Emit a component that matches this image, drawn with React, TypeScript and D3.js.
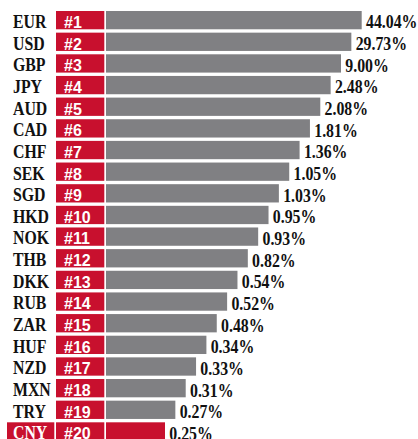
import React from "react";
import * as d3 from "d3";

const currencies = ["EUR","USD","GBP","JPY","AUD","CAD","CHF","SEK","SGD","HKD","NOK","THB","DKK","RUB","ZAR","HUF","NZD","MXN","TRY","CNY"];
const ranks = d3.range(1, 21);
const shares = [44.04,29.73,9.0,2.48,2.08,1.81,1.36,1.05,1.03,0.95,0.93,0.82,0.54,0.52,0.48,0.34,0.33,0.31,0.27,0.25];
const highlight = "CNY";

const W = 418, H = 439;
const RED = "#c8102e";
const GRAY = "#808083";
const SERIF = "'Liberation Serif', 'DejaVu Serif', serif";
const SANS = "'Liberation Sans', Arial, sans-serif";

export default function App() {
  const y = d3.scaleBand<string>().domain(currencies).range([11, 440.6]).paddingInner(0.155).paddingOuter(0);
  const x = d3.scaleLinear().domain([1, 20]).range([361.7, 165]);
  const barX = 106;
  const bw = y.bandwidth();
  const sx = 0.88;
  return (
    <svg width={W} height={H} style={{ position: "absolute", left: 0, top: 0, background: "#fff" }}>
      {currencies.map((c, i) => {
        const top = y(c)!;
        const hl = c === highlight;
        const r = ranks[i];
        const end = x(r);
        const base = top + bw - 1.3;
        return (
          <g key={c}>
            {hl && <rect x={7} y={top} width={47.3} height={bw} fill={RED} />}
            <text transform={`translate(13,${base}) scale(${sx},1)`} fontFamily={SERIF} fontWeight="bold" fontSize={18} fill={hl ? "#fff" : "#111"}>{c}</text>
            <rect x={56} y={top} width={48.3} height={bw} fill={RED} />
            <text x={64} y={base} fontFamily={SANS} fontWeight="bold" fontSize={16} fill="#fff">{"#" + r}</text>
            <rect x={barX} y={top} width={end - barX} height={bw} fill={hl ? RED : GRAY} />
            <text transform={`translate(${end + 4.3},${base + 0.5}) scale(${sx},1)`} fontFamily={SERIF} fontWeight="bold" fontSize={18} fill="#111">{shares[i].toFixed(2) + "%"}</text>
          </g>
        );
      })}
    </svg>
  );
}
